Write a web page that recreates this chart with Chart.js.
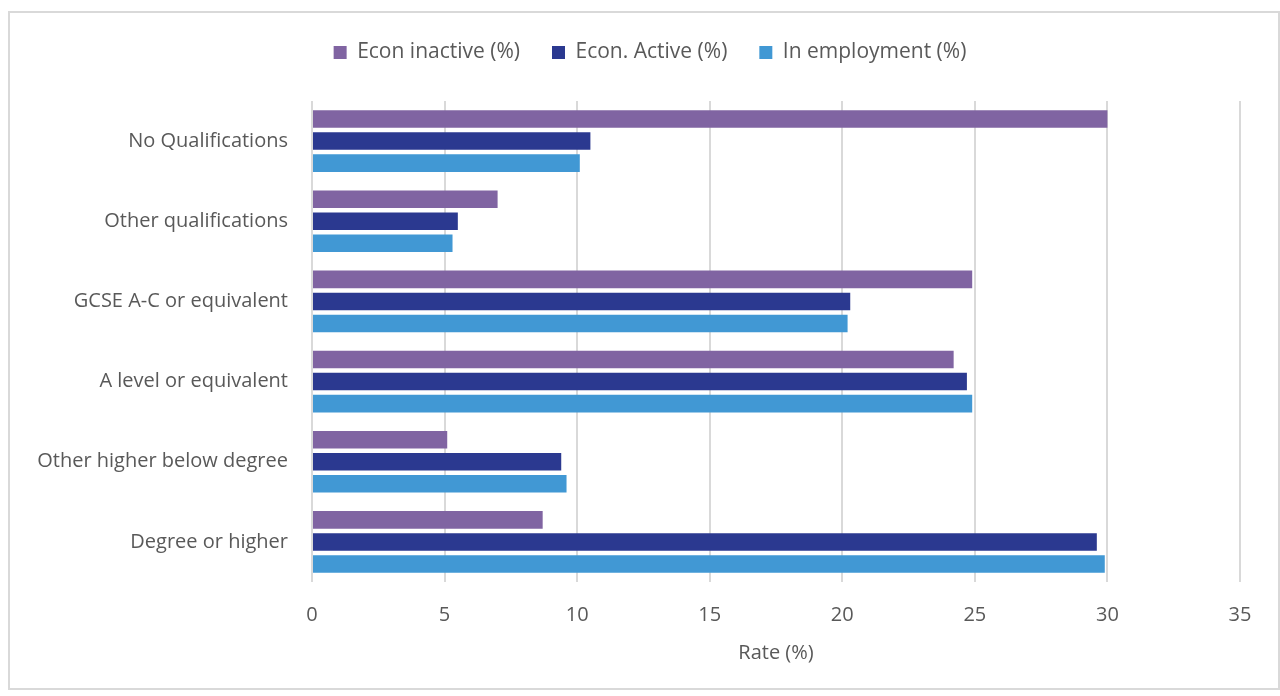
<!DOCTYPE html>
<html>
<head>
<meta charset="utf-8">
<script src="https://cdn.jsdelivr.net/npm/chart.js@4.4.1/dist/chart.umd.min.js"></script>
<style>
  html, body { margin: 0; padding: 0; background: #ffffff; }
  #wrap { position: relative; width: 1280px; height: 696px; }
  #frame { position: absolute; left: 8px; top: 11px; width: 1272px; height: 679px; border: 2px solid #d9d9d9; box-sizing: border-box; pointer-events: none; }
  canvas { position: absolute; left: 0; top: 0; }
</style>
</head>
<body>
<div id="wrap">
  <canvas id="c" width="1280" height="696"></canvas>
  <div id="frame"></div>
</div>
<script>
const categories = ["No Qualifications", "Other qualifications", "GCSE A-C or equivalent", "A level or equivalent", "Other higher below degree", "Degree or higher"];
const econInactive = [30.0, 7.0, 24.9, 24.2, 5.1, 8.7];
const econActive = [10.5, 5.5, 20.3, 24.7, 9.4, 29.6];
const inEmployment = [10.1, 5.3, 20.2, 24.9, 9.6, 29.9];
const seriesNames = ["Econ inactive (%)", "Econ. Active (%)", "In employment (%)"];
const xTicks = [0, 5, 10, 15, 20, 25, 30, 35];
const xTitle = "Rate (%)";

const FONT = "'Open Sans', sans-serif";
const TXT = "#595959";

const legendSpacer = {
  id: 'legendSpacer',
  beforeInit(chart) {
    const fit = chart.legend.fit;
    chart.legend.fit = function () {
      fit.bind(chart.legend)();
      this.height += 28;
    };
  },
  afterLayout(chart) {
    // centre the legend over the whole frame rather than the padded area
    chart.legend.left += 30;
    chart.legend.right += 30;
    chart.legend.adjustHitBoxes();
  }
};

new Chart(document.getElementById('c'), {
  type: 'bar',
  data: {
    labels: categories,
    datasets: [
      { label: seriesNames[0], data: econInactive, backgroundColor: '#8064A2' },
      { label: seriesNames[1], data: econActive, backgroundColor: '#2B3990' },
      { label: seriesNames[2], data: inEmployment, backgroundColor: '#4198D4' }
    ]
  },
  plugins: [legendSpacer],
  options: {
    indexAxis: 'y',
    responsive: false,
    animation: false,
    devicePixelRatio: 1,
    categoryPercentage: 0.825,
    barPercentage: 0.795,
    layout: { padding: { top: 10, left: 0, right: 40, bottom: 30 } },
    plugins: {
      tooltip: { enabled: false },
      legend: {
        position: 'top',
        labels: {
          color: TXT,
          font: { family: FONT, size: 21 },
          boxWidth: 13, boxHeight: 13,
          padding: 32
        }
      }
    },
    scales: {
      x: {
        min: 0, max: 35,
        afterBuildTicks: (s) => { s.ticks = xTicks.map(v => ({ value: v })); },
        grid: { color: '#d9d9d9', lineWidth: 2, drawTicks: false },
        border: { display: false },
        ticks: { color: TXT, font: { family: FONT, size: 20 }, padding: 21 },
        title: { display: true, text: xTitle, color: TXT, font: { family: FONT, size: 20 }, padding: { top: 8, bottom: 1 } },
        afterFit: (s) => { s.height = 84; }
      },
      y: {
        grid: { display: false },
        border: { display: false },
        ticks: { color: TXT, font: { family: FONT, size: 20 }, padding: 16 },
        afterFit: (s) => { s.width = 312; }
      }
    }
  }
});
</script>
</body>
</html>
